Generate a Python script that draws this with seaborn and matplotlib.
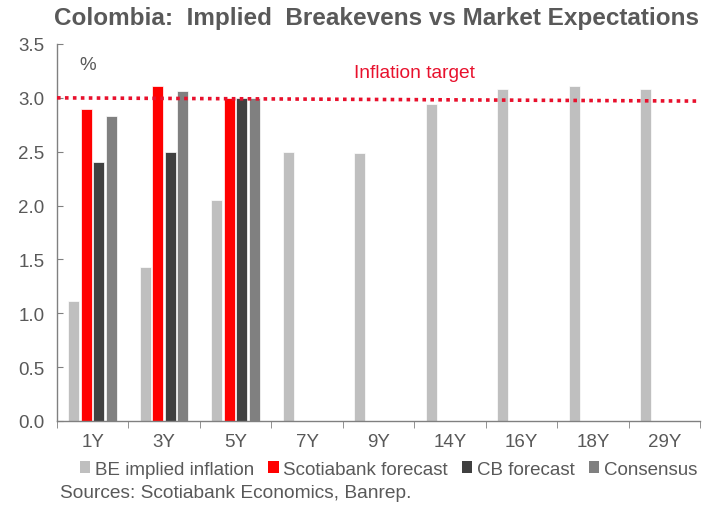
import numpy as np
import pandas as pd
import matplotlib
matplotlib.use("Agg")
import matplotlib.pyplot as plt
import seaborn as sns
from matplotlib.patches import Patch

tenors = ["1Y", "3Y", "5Y", "7Y", "9Y", "14Y", "16Y", "18Y", "29Y"]
be_implied = [1.11, 1.43, 2.05, 2.50, 2.49, 2.94, 3.08, 3.11, 3.08]
scotia_fc = [2.90, 3.11, 3.00, np.nan, np.nan, np.nan, np.nan, np.nan, np.nan]
cb_fc = [2.40, 2.50, 3.00, np.nan, np.nan, np.nan, np.nan, np.nan, np.nan]
consensus = [2.83, 3.06, 3.00, np.nan, np.nan, np.nan, np.nan, np.nan, np.nan]
series_names = ["BE implied inflation", "Scotiabank forecast", "CB forecast", "Consensus"]
series_colors = ["#BFBFBF", "#FF0000", "#404040", "#808080"]
target_ends = [3.00, 2.97]

sns.set_style("white")
plt.rcParams["font.family"] = ["Liberation Sans", "DejaVu Sans"]
grey = "#595959"

df = pd.DataFrame({"tenor": tenors,
                   series_names[0]: be_implied,
                   series_names[1]: scotia_fc,
                   series_names[2]: cb_fc,
                   series_names[3]: consensus})
long = df.melt(id_vars="tenor", var_name="series", value_name="value")

fig = plt.figure(figsize=(7.04, 5.10), dpi=100)
ax = fig.add_axes([57/704, 88/510, 643/704, 377/510])

sns.barplot(data=long, x="tenor", y="value", hue="series", order=tenors,
            hue_order=series_names, palette=series_colors, saturation=1,
            width=0.7, gap=0.12, edgecolor="white", linewidth=0.5,
            legend=False, ax=ax)

# inflation target line
ax.plot([-0.5, len(tenors) - 0.5], target_ends, color="#E8112D", linestyle=(0, (1, 1.2)),
        linewidth=2.6, clip_on=False, zorder=5)
ax.text(4.5, 3.24, "Inflation target", color="#E8112D", fontsize=13.8, ha="center", va="center")
ax.text(-0.07, 3.31, "%", color=grey, fontsize=13.5, ha="center", va="center")

ax.set_xlim(-0.5, len(tenors) - 0.5)
ax.set_ylim(0, 3.5)
ax.set_yticks(np.arange(0, 3.51, 0.5))
ax.set_yticklabels([f"{v:.1f}" for v in np.arange(0, 3.51, 0.5)])
ax.set_xlabel("")
ax.set_ylabel("")

for s in ["top", "right"]:
    ax.spines[s].set_visible(False)
for s in ["left", "bottom"]:
    ax.spines[s].set_color("#808080")
    ax.spines[s].set_linewidth(1)

ax.tick_params(axis="y", direction="in", length=4, color="#808080", labelsize=13.5,
               labelcolor=grey, left=True, pad=9)
ax.tick_params(axis="x", which="major", length=0, labelsize=13.5, labelcolor=grey, pad=9)
ax.set_xticks(np.arange(-0.5, len(tenors), 1.0), minor=True)
ax.tick_params(axis="x", which="minor", direction="out", length=5, color="#808080", bottom=True)

fig.text(0.535, 0.963, "Colombia:  Implied  Breakevens vs Market Expectations",
         fontsize=17.5, fontweight="bold", color=grey, ha="center", va="center")

handles = [Patch(facecolor=c, edgecolor="none") for c in series_colors]
fig.legend(handles, series_names, loc="center", bbox_to_anchor=(0.552, 0.078), ncol=4,
           frameon=False, fontsize=13.5, handlelength=0.55, handleheight=0.6,
           handletextpad=0.25, columnspacing=0.75, labelcolor=grey)

fig.text(60/704, 1 - 494/510, "Sources: Scotiabank Economics, Banrep.", fontsize=13.8,
         color=grey, ha="left", va="center")

fig.savefig("out.png", dpi=100)
